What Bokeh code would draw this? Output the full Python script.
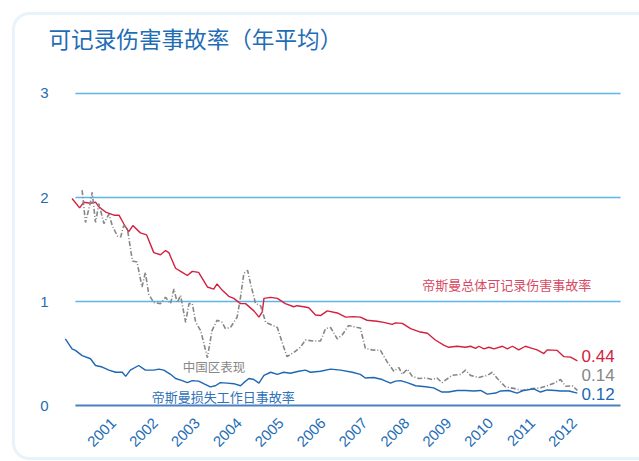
import math
from bokeh.plotting import figure
from bokeh.models import Range1d, Label, BoxAnnotation
from bokeh.core.properties import value
from bokeh.embed import file_html
from bokeh.resources import INLINE

# ---------------- data ----------------
years = [2001, 2002, 2003, 2004, 2005, 2006, 2007, 2008, 2009, 2010, 2011, 2012]
year_labels = [str(y) for y in years]
y_ticks = [0, 1, 2, 3]
y_tick_labels = ["0", "1", "2", "3"]

total_t = [1999.82, 2000.00, 2000.10, 2000.26, 2000.38, 2000.46, 2000.62, 2000.82, 2000.94,
           2001.05, 2001.17, 2001.27, 2001.45, 2001.60, 2001.77, 2001.93, 2002.05, 2002.13,
           2002.29, 2002.45, 2002.57, 2002.69, 2002.84, 2003.05, 2003.20, 2003.28, 2003.40,
           2003.56, 2003.68, 2003.84, 2003.96, 2004.16, 2004.28, 2004.36, 2004.40, 2004.56,
           2004.72, 2004.91, 2005.11, 2005.19, 2005.35, 2005.47, 2005.63, 2005.75, 2005.91,
           2006.15, 2006.35, 2006.54, 2006.70, 2006.86, 2007.10, 2007.26, 2007.46, 2007.54,
           2007.70, 2007.90, 2008.10, 2008.30, 2008.49, 2008.69, 2008.81, 2009.01, 2009.21,
           2009.33, 2009.45, 2009.53, 2009.65, 2009.77, 2009.89, 2010.09, 2010.21, 2010.33,
           2010.48, 2010.64, 2010.76, 2010.92, 2011.08, 2011.16, 2011.40, 2011.56, 2011.72,
           2011.88]
total_v = [1.99, 1.90, 1.955, 1.945, 1.955, 1.91, 1.86, 1.83, 1.83,
           1.75, 1.67, 1.73, 1.66, 1.64, 1.47, 1.45, 1.49, 1.47,
           1.32, 1.28, 1.25, 1.29, 1.28, 1.14, 1.12, 1.17, 1.11,
           1.05, 1.03, 0.98, 0.98, 0.91, 0.85, 0.90, 1.03, 1.04,
           1.03, 0.98, 0.95, 0.96, 0.95, 0.94, 0.87, 0.865, 0.91,
           0.89, 0.85, 0.855, 0.85, 0.82, 0.81, 0.80, 0.78, 0.795,
           0.79, 0.74, 0.71, 0.695, 0.63, 0.58, 0.56, 0.57, 0.56,
           0.57, 0.55, 0.57, 0.545, 0.56, 0.545, 0.57, 0.545, 0.57,
           0.535, 0.57, 0.555, 0.535, 0.50, 0.535, 0.53, 0.47, 0.465,
           0.43]

china_t = [2000.06, 2000.14, 2000.26, 2000.30, 2000.38, 2000.46, 2000.58, 2000.70, 2000.78,
           2000.90, 2000.98, 2001.05, 2001.14, 2001.26, 2001.37, 2001.49, 2001.57, 2001.65,
           2001.77, 2001.93, 2002.05, 2002.17, 2002.25, 2002.33, 2002.41, 2002.53, 2002.61,
           2002.69, 2002.77, 2002.89, 2003.05, 2003.16, 2003.28, 2003.40, 2003.48, 2003.60,
           2003.76, 2003.84, 2003.92, 2004.01, 2004.08, 2004.20, 2004.32, 2004.44, 2004.56,
           2004.72, 2004.84, 2004.95, 2005.11, 2005.27, 2005.39, 2005.59, 2005.75, 2005.87,
           2005.99, 2006.15, 2006.27, 2006.42, 2006.63, 2006.70, 2006.82, 2006.98, 2007.18,
           2007.34, 2007.50, 2007.62, 2007.70, 2007.82, 2007.94, 2008.10, 2008.26, 2008.42,
           2008.53, 2008.65, 2008.89, 2009.09, 2009.21, 2009.33, 2009.53, 2009.73, 2009.85,
           2009.97, 2010.16, 2010.36, 2010.56, 2010.76, 2011.00, 2011.16, 2011.32, 2011.48,
           2011.60, 2011.76, 2011.88]
china_v = [2.07, 1.76, 1.955, 2.05, 1.76, 1.94, 1.75, 1.84, 1.73,
           1.63, 1.62, 1.73, 1.70, 1.39, 1.38, 1.14, 1.28, 1.07,
           0.99, 0.98, 1.04, 0.98, 1.12, 0.99, 1.06, 0.80, 0.98,
           0.98, 0.80, 0.72, 0.46, 0.72, 0.82, 0.80, 0.74, 0.75,
           0.85, 1.04, 1.27, 1.30, 1.17, 0.98, 0.96, 0.80, 0.78,
           0.75, 0.60, 0.47, 0.51, 0.56, 0.63, 0.62, 0.62, 0.74,
           0.75, 0.64, 0.68, 0.77, 0.75, 0.745, 0.55, 0.535, 0.53,
           0.42, 0.33, 0.365, 0.30, 0.35, 0.28, 0.26, 0.265, 0.25,
           0.265, 0.22, 0.29, 0.30, 0.34, 0.29, 0.27, 0.29, 0.32,
           0.26, 0.18, 0.165, 0.145, 0.16, 0.17, 0.19, 0.215, 0.25,
           0.185, 0.19, 0.145]

lost_t = [1999.66, 1999.82, 1999.90, 2000.06, 2000.26, 2000.38, 2000.54, 2000.70, 2000.86,
          2001.02, 2001.10, 2001.21, 2001.41, 2001.57, 2001.77, 2001.89, 2002.01, 2002.17,
          2002.29, 2002.45, 2002.57, 2002.69, 2002.84, 2002.96, 2003.12, 2003.24, 2003.36,
          2003.52, 2003.68, 2003.84, 2003.92, 2004.04, 2004.16, 2004.28, 2004.40, 2004.56,
          2004.72, 2004.87, 2005.03, 2005.23, 2005.39, 2005.51, 2005.75, 2005.99, 2006.23,
          2006.51, 2006.70, 2006.82, 2007.02, 2007.22, 2007.42, 2007.54, 2007.66, 2007.82,
          2008.02, 2008.26, 2008.45, 2008.65, 2008.81, 2009.01, 2009.21, 2009.41, 2009.57,
          2009.73, 2009.93, 2010.05, 2010.24, 2010.44, 2010.60, 2010.84, 2011.00, 2011.16,
          2011.36, 2011.48, 2011.68, 2011.88]
lost_v = [0.64, 0.545, 0.53, 0.48, 0.45, 0.385, 0.37, 0.34, 0.32,
          0.32, 0.28, 0.34, 0.385, 0.34, 0.34, 0.35, 0.34, 0.30,
          0.26, 0.24, 0.22, 0.24, 0.235, 0.21, 0.18, 0.19, 0.22,
          0.215, 0.21, 0.19, 0.22, 0.26, 0.25, 0.215, 0.29, 0.32,
          0.30, 0.32, 0.31, 0.33, 0.34, 0.32, 0.33, 0.35, 0.34,
          0.32, 0.30, 0.265, 0.27, 0.25, 0.215, 0.235, 0.24, 0.22,
          0.19, 0.18, 0.17, 0.13, 0.13, 0.145, 0.145, 0.14, 0.145,
          0.11, 0.12, 0.14, 0.145, 0.12, 0.145, 0.16, 0.13, 0.15,
          0.145, 0.14, 0.14, 0.12]

end_labels = ["0.44", "0.14", "0.12"]
end_label_y = [0.48, 0.29, 0.115]

title_text = "可记录伤害事故率（年平均）"
label_total = "帝斯曼总体可记录伤害事故率"
label_china = "中国区表现"
label_lost = "帝斯曼损失工作日事故率"

RED = "#d4203f"
GRAY = "#878787"
BLUE = "#1d67b3"
GRID = "#5db6e6"
BASE = "#4a80c0"
TXT = "#1f6db5"
CJK = "Noto Sans CJK SC"
LAT = "Liberation Sans"

# the plot frame covers the whole canvas; axes are drawn as text from the tick arrays
p = figure(width=639, height=461, output_backend="svg", toolbar_location=None,
           x_range=Range1d(1998.112, 2013.363), y_range=Range1d(-0.538, 3.894),
           x_axis_location=None, y_axis_location=None,
           min_border_left=0, min_border_right=0, min_border_top=0,
           min_border_bottom=0)
p.outline_line_color = None
p.xgrid.visible = False
p.ygrid.visible = False

# rounded frame around the whole chart
p.add_layout(BoxAnnotation(left=1998.42, right=2014.2, top=3.77, bottom=-0.51,
                           fill_color=None, line_color="#b6d6ef", line_width=3,
                           border_radius=16, level="underlay"))

# grid lines
gx0, gx1 = 1999.90, 2012.91
p.segment(x0=[gx0] * 3, y0=y_ticks[1:], x1=[gx1] * 3, y1=y_ticks[1:],
          line_color=GRID, line_width=1.5)
p.segment(x0=[gx0], y0=[0], x1=[gx1], y1=[0], line_color=BASE, line_width=2)

# series
p.line(total_t, total_v, line_color=RED, line_width=1.4)
p.line(china_t, china_v, line_color=GRAY, line_width=1.6, line_dash="5 2 1 2")
p.line(lost_t, lost_v, line_color=BLUE, line_width=1.4)

# y tick labels
p.text(x=[1999.258] * len(y_ticks), y=y_ticks, text=y_tick_labels,
       text_font=value(LAT), text_font_size="15px", text_color=TXT,
       text_align="right", text_baseline="middle")

# x tick labels (rotated 45 degrees, right end under each year)
p.text(x=[y - 0.19 for y in years], y=[-0.145] * len(years), text=year_labels,
       angle=math.pi / 4, text_font=value(LAT), text_font_size="15px",
       text_color=TXT, text_align="right", text_baseline="middle")

# title
p.add_layout(Label(x=1999.258, y=3.53, text=title_text, text_font=CJK,
                   text_font_size="22.6px", text_color=TXT, text_baseline="middle",
                   text_align="left"))

# series annotations
p.add_layout(Label(x=2008.18, y=1.163, text=label_total, text_font=CJK,
                   text_font_size="13px", text_color="#d84a63",
                   text_baseline="middle"))
p.add_layout(Label(x=2002.46, y=0.375, text=label_china, text_font=CJK,
                   text_font_size="12.5px", text_color=GRAY, text_baseline="middle"))
p.add_layout(Label(x=2001.72, y=0.087, text=label_lost, text_font=CJK,
                   text_font_size="13px", text_color="#2f72b8", text_baseline="middle"))

for txt, yy, col in zip(end_labels, end_label_y, [RED, GRAY, BLUE]):
    p.add_layout(Label(x=2011.98, y=yy, text=txt, text_font=LAT,
                       text_font_size="17px", text_color=col, text_baseline="middle"))

open("out.html", "w").write(file_html(p, INLINE))
